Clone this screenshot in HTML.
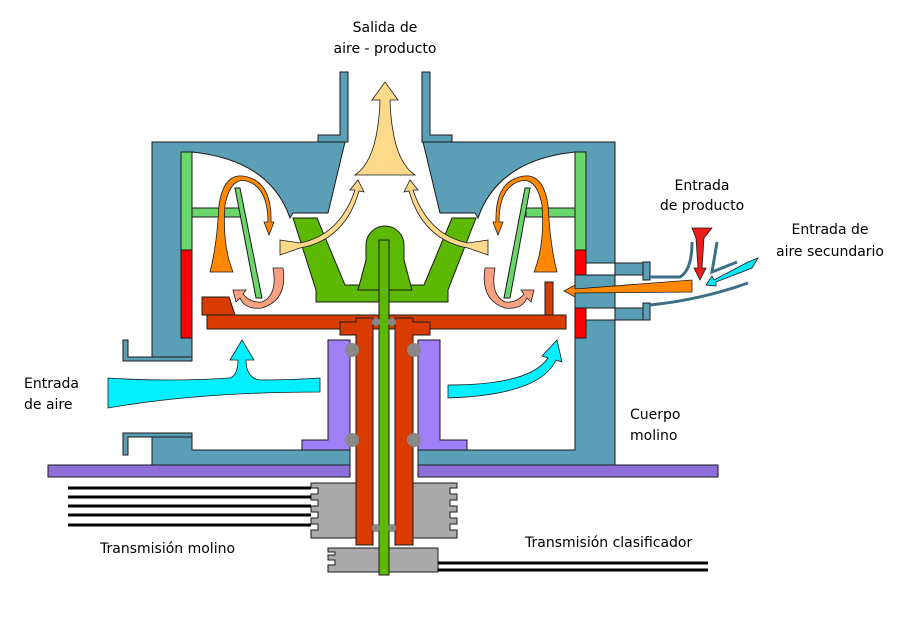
<!DOCTYPE html>
<html><head><meta charset="utf-8"><style>
html,body{margin:0;padding:0;background:#fff;}
svg{display:block;}
text{font-family:"DejaVu Sans","Liberation Sans",sans-serif;font-size:14px;fill:#000;}
</style></head><body>
<svg width="917" height="623" viewBox="0 0 917 623" xmlns="http://www.w3.org/2000/svg">
<g stroke="#1a1a1a" stroke-width="1">
<!-- chimney -->
<path d="M340 72 V135 H318 V142 H348 V72 Z" fill="#5b9fb7"/>
<path d="M430 72 V135 H452 V142 H422 V72 Z" fill="#5b9fb7"/>
<!-- top housing left -->
<path d="M152 142 H345 L328 213 H293 L290 218 Q270 160 192 152 V360 H152 Z" fill="#5b9fb7"/>
<!-- top housing right -->
<path d="M615 142 H423 L440 213 H475 L478 218 Q498 160 575 152 V263 H645 V275 H575 V308 H645 V320 H615 V465 H418 V450 H575 V320 H615 Z" fill="#5b9fb7"/>
<path d="M615 142 V263" fill="none"/>
<rect x="643" y="262" width="7" height="18" fill="#5b9fb7"/>
<rect x="643" y="303" width="7" height="17" fill="#5b9fb7"/>
<!-- left brackets -->
<path d="M123 340 H128 V357 H192 V361 H123 Z" fill="#5b9fb7"/>
<path d="M123 433 H192 V437 H128 V455 H123 Z" fill="#5b9fb7"/>
<path d="M152 437 H192 V450 H350 V465 H152 Z" fill="#5b9fb7"/>
<!-- base plates -->
<rect x="48" y="465" width="302" height="12" fill="#8c6fd8"/>
<rect x="418" y="465" width="300" height="12" fill="#8c6fd8"/>
<!-- liners -->
<rect x="181" y="152" width="11" height="98" fill="#6bd66b"/>
<rect x="181" y="250" width="11" height="88" fill="#ff0000"/>
<rect x="575" y="152" width="11" height="98" fill="#6bd66b"/>
<rect x="575" y="250" width="11" height="25" fill="#ff0000"/>
<rect x="575" y="308" width="11" height="30" fill="#ff0000"/>
<!-- green blades -->
<path d="M192 208 H241 V217 H192 Z" fill="#6bd66b"/>
<path d="M235 188 L240 188 L262 298 L256 298 Z" fill="#6bd66b"/>
<path d="M575 208 H526 V217 H575 Z" fill="#6bd66b"/>
<path d="M530 188 L525 188 L504 298 L510 298 Z" fill="#6bd66b"/>
<!-- classifier -->
<path d="M293 218 H317 L345 285 H424 L452 218 H476 L448 290 V302 H316 V290 Z" fill="#5cb800"/>
<path d="M358 290 L366 260 V245 A19 19 0 0 1 404 245 V260 L412 290 Z" fill="#5cb800"/>
<!-- red rotor -->
<rect x="207" y="315" width="359" height="14" fill="#d83c00"/>
<path d="M202 297 H229 L235 315 H202 Z" fill="#d83c00"/>
<rect x="545" y="282" width="8" height="33" fill="#d83c00"/>
<path d="M340 322 H356 V318 H373 V545 H356 V335 H340 Z" fill="#d83c00"/>
<path d="M430 322 H413 V318 H395 V545 H413 V335 H430 Z" fill="#d83c00"/>
<!-- purple bearings -->
<path d="M328 340 H350 V450 H302 V440 H328 Z" fill="#a080f8"/>
<path d="M440 340 H418 V450 H467 V440 H440 Z" fill="#a080f8"/>
<!-- gray blocks -->
<path d="M311 483 H356 V538 H311 V530 H318 V524 H311 V518 H318 V512 H311 V506 H318 V500 H311 V494 H318 V488 H311 Z" fill="#aaa"/>
<path d="M457 483 H413 V538 H457 V530 H450 V524 H457 V518 H450 V512 H457 V506 H450 V500 H457 V494 H450 V488 H457 Z" fill="#aaa"/>
<path d="M328 548 H438 V572 H328 V565 H335 V560 H328 V555 H335 V552 H328 Z" fill="#aaa"/>
<!-- shaft -->
<rect x="379" y="240" width="10" height="335" fill="#5cb800"/>
</g>
<g fill="#888">
<circle cx="352" cy="350" r="7"/><circle cx="352" cy="440" r="7"/>
<circle cx="414" cy="350" r="7"/><circle cx="414" cy="440" r="7"/>
<circle cx="376" cy="322" r="4"/><circle cx="392" cy="322" r="4"/>
<circle cx="376" cy="528" r="4"/><circle cx="392" cy="528" r="4"/>
</g>
<!-- drive lines -->
<g stroke="#000" stroke-width="3">
<line x1="68" y1="488" x2="311" y2="488"/><line x1="68" y1="497" x2="311" y2="497"/>
<line x1="68" y1="506" x2="311" y2="506"/><line x1="68" y1="515" x2="311" y2="515"/>
<line x1="68" y1="525" x2="311" y2="525"/>
<line x1="438" y1="563" x2="708" y2="563"/><line x1="438" y1="570" x2="708" y2="570"/>
</g>
<!-- product inlet pipes -->
<g fill="none" stroke="#3a6f86" stroke-width="3">
<path d="M650 277 H680 Q692 270 692 242"/>
<path d="M650 305 Q700 300 748 283"/>
<path d="M717 242 L712 272 L737 262"/>
</g>
<!-- flows -->
<g stroke="#1a1a1a" stroke-width="0.8">
<path d="M355 175 Q378 160 380 100 L372 100 L385 82 L398 100 L390 100 Q392 160 415 175 Z" fill="#ffd98a"/>
<path d="M280 240 L300 243 Q340 235 355 190 L350 190 L358 180 L364 192 L359 191 Q345 240 300 248 L280 255 Z" fill="#ffd98a"/>
<path d="M488 240 L468 243 Q428 235 413 190 L418 190 L410 180 L404 192 L409 191 Q423 240 468 248 L488 255 Z" fill="#ffd98a"/>
<path d="M210 272 L233 272 Q222 245 225 205 Q232 170 255 185 Q268 195 268 222 L264 222 L269 235 L274 222 L271 222 Q272 190 255 180 Q225 165 219 205 Q217 245 210 272 Z" fill="#ff8800"/>
<path d="M557 272 L534 272 Q545 245 542 205 Q535 170 512 185 Q499 195 499 222 L503 222 L498 235 L493 222 L496 222 Q495 190 512 180 Q542 165 548 205 Q550 245 557 272 Z" fill="#ff8800"/>
<path d="M273 268 L283 268 Q288 300 262 308 Q245 310 240 298 L236 302 L233 290 L246 290 L243 294 Q250 303 262 302 Q278 295 273 268 Z" fill="#f8a080"/>
<path d="M495 268 L485 268 Q480 300 505 308 Q522 310 527 298 L531 302 L534 290 L521 290 L524 294 Q517 303 505 302 Q490 295 495 268 Z" fill="#f8a080"/>
<path d="M692 280 L692 292 L575 293 L575 297 L564 291 L575 285 L575 289 Z" fill="#ff8800"/>
<path d="M692 228 H712 L704 238 L702 268 L706 268 L700 280 L694 268 L698 268 L696 238 Z" fill="#ee1c1c"/>
<path d="M758 258 L752 268 L716 282 L716 286 L706 285 L712 276 L714 280 L748 262 Z" fill="#00e8f8"/>
<path d="M108 378 Q170 382 230 378 Q238 375 238 360 L230 360 L242 340 L254 360 L246 360 Q246 378 260 380 Q290 380 320 378 L320 392 Q200 392 108 408 Z" fill="#00f0ff"/>
<path d="M448 385 Q530 385 548 358 L542 356 L557 340 L562 362 L556 360 Q540 395 448 398 Z" fill="#00f0ff"/>
</g>
<!-- labels -->
<text x="385" y="32" text-anchor="middle">Salida de</text>
<text x="385" y="53" text-anchor="middle">aire - producto</text>
<text x="702" y="190" text-anchor="middle">Entrada</text>
<text x="702" y="210" text-anchor="middle">de producto</text>
<text x="830" y="234" text-anchor="middle">Entrada de</text>
<text x="830" y="256" text-anchor="middle">aire secundario</text>
<text x="24" y="388">Entrada</text>
<text x="24" y="409">de aire</text>
<text x="630" y="419">Cuerpo</text>
<text x="630" y="440">molino</text>
<text x="100" y="553">Transmisión molino</text>
<text x="525" y="547">Transmisión clasificador</text>
</svg>
</body></html>
